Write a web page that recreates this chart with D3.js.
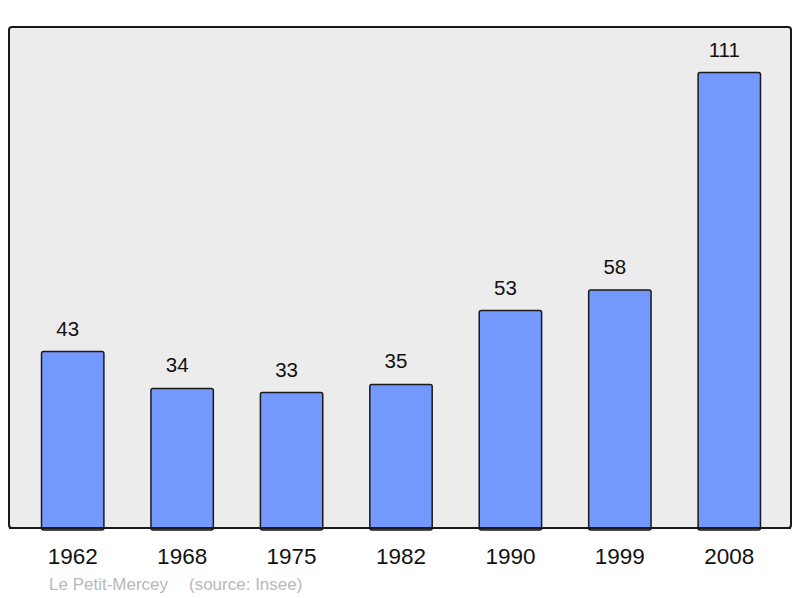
<!DOCTYPE html>
<html>
<head>
<meta charset="utf-8">
<script src="https://cdn.jsdelivr.net/npm/d3@7"></script>
<style>
  body { margin: 0; background: #fff; }
  text { font-family: "Liberation Sans", Arial, sans-serif; }
</style>
</head>
<body>
<svg id="chart"></svg>
<script>
// population by census year
const years = ['1962', '1968', '1975', '1982', '1990', '1999', '2008'];
const population = [43, 34, 33, 35, 53, 58, 111];
const commune = 'Le Petit-Mercey';
const source = '(source: Insee)';

const width = 800,
  height = 598,
  frame = { left: 9, top: 27, right: 791, bottom: 528 };

let svg = d3
  .select('#chart')
  .attr('width', width)
  .attr('height', height);

svg
  .append('rect')
  .attr('x', frame.left)
  .attr('y', frame.top)
  .attr('width', frame.right - frame.left)
  .attr('height', frame.bottom - frame.top)
  .attr('rx', 3)
  .attr('fill', '#ececec')
  .attr('stroke', '#1a1a1a')
  .attr('stroke-width', 2);

let x = d3
  .scaleBand()
  .domain(years)
  .range([18, 784])
  .paddingInner(0.43)
  .paddingOuter(0.215);

let y = d3
  .scaleLinear()
  .domain([0, d3.max(population) * 1.1])
  .range([frame.bottom, frame.top]);

let data = years.map((yr, i) => ({ year: yr, value: population[i] }));

svg
  .append('g')
  .selectAll('rect')
  .data(data)
  .enter()
  .append('rect')
  .attr('x', d => x(d.year))
  .attr('y', d => y(d.value))
  .attr('width', x.bandwidth())
  .attr('height', d => y(0) - y(d.value) + 2)
  .attr('rx', 2)
  .attr('fill', '#7399ff')
  .attr('stroke', '#1a1a1a')
  .attr('stroke-width', 1.5);

// redraw bottom edge of frame over the bars
svg
  .append('line')
  .attr('x1', frame.left)
  .attr('x2', frame.right)
  .attr('y1', frame.bottom)
  .attr('y2', frame.bottom)
  .attr('stroke', '#1a1a1a')
  .attr('stroke-width', 2);

// value labels sit a little left of the bar centre, as in the source
svg
  .append('g')
  .selectAll('text')
  .data(data)
  .enter()
  .append('text')
  .attr('x', d => x(d.year) + x.bandwidth() / 2 - 5)
  .attr('y', d => y(d.value) - 16)
  .attr('text-anchor', 'middle')
  .attr('font-size', 20.5)
  .attr('fill', '#111')
  .text(d => d.value);

let xAxis = svg
  .append('g')
  .attr('transform', 'translate(0,' + frame.bottom + ')')
  .call(d3.axisBottom(x).tickSize(0).tickPadding(0));
xAxis.select('.domain').remove();
xAxis
  .selectAll('text')
  .attr('dy', null)
  .attr('y', 36)
  .attr('font-size', 22.5)
  .attr('font-family', '"Liberation Sans", Arial, sans-serif')
  .attr('fill', '#111');

svg
  .append('text')
  .attr('x', 49)
  .attr('y', 590)
  .attr('font-size', 17)
  .attr('fill', '#b8b8b8')
  .text(commune);

svg
  .append('text')
  .attr('x', 189)
  .attr('y', 590)
  .attr('font-size', 17)
  .attr('fill', '#b8b8b8')
  .text(source);
</script>
</body>
</html>
